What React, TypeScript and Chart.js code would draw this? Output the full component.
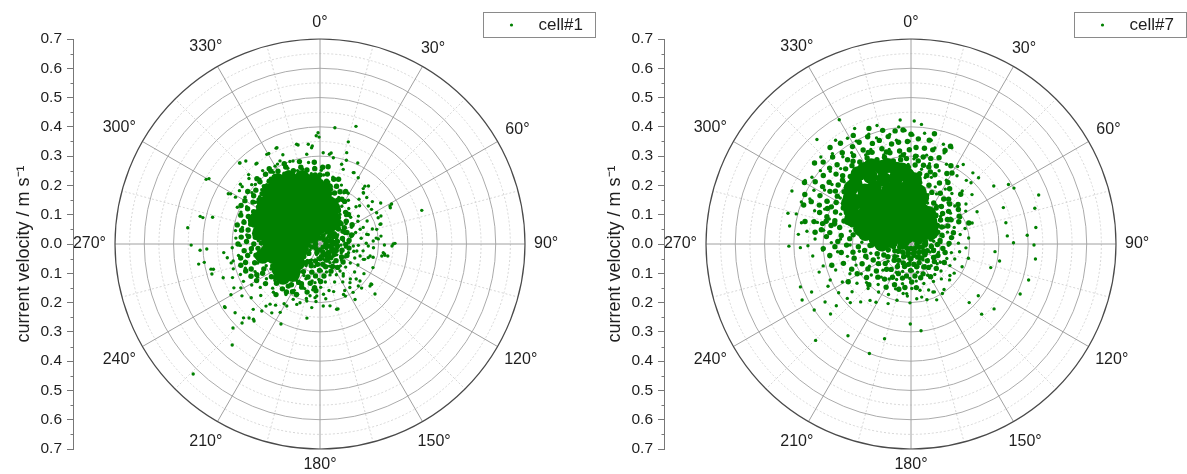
import React, { useEffect, useRef } from 'react';
import { Chart, registerables } from 'chart.js';

Chart.register(...registerables);

// ---------- axis / grid definitions ----------
const SPEED_MAX = 0.7;
const speedTickStep = 0.1;
const ringValues = [0.1, 0.2, 0.3, 0.4, 0.5, 0.6];
const minorRingValues = [0.05, 0.15, 0.25, 0.35, 0.45, 0.55, 0.65];
const angleTicks = [0, 30, 60, 90, 120, 150, 180, 210, 240, 270, 300, 330];
const angleLabels = ['0°', '30°', '60°', '90°', '120°', '150°', '180°', '210°', '240°', '270°', '300°', '330°'];
const minorAngleTicks = [15, 45, 75, 105, 135, 165, 195, 225, 255, 285, 315, 345];
const axisTitle = 'current velocity / m s\u207B\u00B9    ';
const legendLabels = ['cell#1', 'cell#7'];

// ---------- data: [direction in degrees, speed in m/s] ----------
// solid centre of the cloud (cell#1)
const cell1Dense: [number, number][] = [
  [321, 0.05], [322, 0.09], [320, 0.13], [321, 0.17], [322, 0.21], [320, 0.245],
  [331, 0.07], [330, 0.11], [332, 0.15], [331, 0.19], [330, 0.23],
  [311, 0.07], [312, 0.11], [310, 0.15], [311, 0.19], [312, 0.23],
  [341, 0.05], [340, 0.09], [342, 0.13], [341, 0.17], [340, 0.21],
  [301, 0.05], [302, 0.09], [300, 0.13], [301, 0.17], [302, 0.21],
  [351, 0.08], [350, 0.12], [352, 0.16], [351, 0.2],
  [291, 0.08], [290, 0.12], [292, 0.16], [291, 0.2], [290, 0.235],
  [1, 0.06], [2, 0.1], [0, 0.14], [1, 0.18],
  [281, 0.06], [280, 0.1], [282, 0.14], [281, 0.18], [280, 0.21],
  [11, 0.07], [12, 0.11], [10, 0.145],
  [271, 0.07], [270, 0.11], [272, 0.145], [271, 0.17],
  [21, 0.07], [261, 0.07],
  [245, 0.08], [235, 0.13], [250, 0.15], [228, 0.17], [258, 0.2],
  [345, 0.235], [335, 0.25], [355, 0.215], [5, 0.19], [15, 0.14], [25, 0.1], [20, 0.13], [30, 0.08],
  [316, 0.25], [326, 0.26], [306, 0.235], [296, 0.225], [286, 0.2], [276, 0.175], [266, 0.14],
  [256, 0.12], [240, 0.11], [230, 0.1], [245, 0.14], [238, 0.165], [255, 0.165], [262, 0.18],
  [232, 0.145], [222, 0.14],
];

// dense ring of samples around the centre (cell#1)
const cell1Mid: [number, number][] = [
  [281, 0.25], [280, 0.272], [291, 0.262], [290, 0.288], [301, 0.245], [302, 0.27], [300, 0.296],
  [311, 0.262], [310, 0.286], [321, 0.276], [322, 0.302], [331, 0.262], [330, 0.287],
  [341, 0.242], [340, 0.266], [351, 0.232], [350, 0.257], [1, 0.212], [0, 0.236], [2, 0.262],
  [11, 0.176], [10, 0.2], [12, 0.226], [21, 0.1], [20, 0.131], [22, 0.161], [21, 0.191],
  [271, 0.2], [270, 0.226], [272, 0.251], [261, 0.1], [262, 0.13], [260, 0.222], [261, 0.25],
  [286, 0.246], [296, 0.252], [306, 0.257], [316, 0.272], [326, 0.277], [336, 0.266],
  [346, 0.246], [356, 0.236], [6, 0.216], [16, 0.181], [266, 0.212], [276, 0.222],
  [30, 0.05], [31, 0.09], [29, 0.13], [30, 0.168], [40, 0.061], [41, 0.1], [39, 0.139],
  [50, 0.042], [51, 0.081], [49, 0.119], [60, 0.052], [61, 0.09], [59, 0.128],
  [75, 0.041], [76, 0.079], [74, 0.112], [90, 0.05], [91, 0.088], [105, 0.04], [106, 0.078],
  [120, 0.05], [121, 0.086], [135, 0.041], [136, 0.079], [150, 0.05], [151, 0.088],
  [165, 0.04], [166, 0.08], [180, 0.05], [181, 0.09], [179, 0.128],
  [195, 0.06], [196, 0.1], [194, 0.138], [210, 0.07], [211, 0.11], [209, 0.15], [210, 0.188],
  [220, 0.2], [221, 0.229], [225, 0.09], [226, 0.128], [235, 0.172], [236, 0.2], [234, 0.23],
  [245, 0.178], [246, 0.21], [244, 0.24], [255, 0.2], [254, 0.232], [256, 0.262],
  [215, 0.17], [205, 0.15], [200, 0.12], [250, 0.05], [230, 0.05], [265, 0.04],
  [286, 0.27], [296, 0.275], [306, 0.28], [316, 0.295], [326, 0.3], [336, 0.288], [346, 0.27],
  [356, 0.258], [6, 0.24], [16, 0.205], [266, 0.235], [276, 0.245], [26, 0.13], [26, 0.17], [26, 0.2],
  [0, 0.02], [45, 0.02], [90, 0.02], [135, 0.015], [180, 0.02], [225, 0.02], [270, 0.015], [315, 0.02],
  [20, 0.03], [70, 0.03], [110, 0.025], [160, 0.03], [200, 0.03], [250, 0.03], [290, 0.03], [340, 0.025],
  [35, 0.07], [35, 0.11], [45, 0.05], [46, 0.1], [44, 0.14], [55, 0.06], [56, 0.1], [66, 0.06], [67, 0.1],
  [82, 0.06], [83, 0.1], [97, 0.06], [98, 0.1], [112, 0.06], [113, 0.1], [127, 0.06], [128, 0.1],
  [142, 0.06], [143, 0.1], [157, 0.06], [158, 0.1], [172, 0.07], [173, 0.11], [187, 0.07], [188, 0.11],
  [187, 0.15], [202, 0.08], [203, 0.16], [217, 0.08], [218, 0.12], [217, 0.18], [232, 0.07], [233, 0.19],
  [242, 0.06], [252, 0.08], [243, 0.22], [250, 0.25], [228, 0.2], [215, 0.2], [205, 0.19], [195, 0.17],
  [185, 0.16], [265, 0.26], [270, 0.28], [275, 0.27], [260, 0.275], [255, 0.28], [250, 0.27], [245, 0.26],
  [240, 0.25], [283, 0.29], [296, 0.3], [306, 0.305], [316, 0.31], [326, 0.31], [336, 0.3], [346, 0.29],
  [356, 0.28], [6, 0.265], [16, 0.23],
];

// individual samples (cell#1)
const cell1Points: [number, number][] = [
  [358, 0.22], [3, 0.236], [1, 0.252], [356, 0.262], [5, 0.212],
  [9, 0.172], [12, 0.19], [8, 0.214], [14, 0.178], [11, 0.232],
  [19, 0.112], [23, 0.134], [18, 0.152], [22, 0.171], [25, 0.193], [20, 0.214],
  [28, 0.042], [32, 0.081], [27, 0.103], [34, 0.122], [30, 0.149], [33, 0.178], [29, 0.198],
  [38, 0.052], [43, 0.071], [37, 0.098], [42, 0.131], [39, 0.156], [44, 0.177], [41, 0.203],
  [48, 0.031], [53, 0.062], [47, 0.088], [52, 0.113], [49, 0.139], [54, 0.162], [46, 0.188],
  [58, 0.041], [63, 0.068], [57, 0.101], [62, 0.122], [59, 0.151], [64, 0.179],
  [68, 0.029], [73, 0.059], [67, 0.092], [72, 0.128], [69, 0.158], [74, 0.186],
  [78, 0.048], [83, 0.081], [77, 0.109], [82, 0.142], [79, 0.168], [84, 0.193],
  [88, 0.038], [93, 0.072], [87, 0.098], [92, 0.131], [89, 0.158], [94, 0.183],
  [98, 0.032], [103, 0.061], [97, 0.088], [102, 0.118], [99, 0.149], [104, 0.187],
  [108, 0.051], [113, 0.079], [107, 0.102], [112, 0.128], [109, 0.161], [114, 0.198],
  [118, 0.042], [123, 0.068], [117, 0.097], [122, 0.122], [119, 0.148], [124, 0.181],
  [128, 0.028], [133, 0.061], [127, 0.091], [132, 0.118], [129, 0.152], [134, 0.172],
  [138, 0.049], [143, 0.078], [137, 0.102], [142, 0.129], [139, 0.158],
  [148, 0.038], [153, 0.062], [147, 0.091], [152, 0.119], [149, 0.151], [154, 0.198],
  [158, 0.032], [163, 0.058], [157, 0.082], [162, 0.111], [159, 0.139], [164, 0.169],
  [168, 0.052], [173, 0.071], [167, 0.098], [172, 0.131], [169, 0.162], [174, 0.188],
  [178, 0.041], [183, 0.069], [177, 0.092], [182, 0.121], [179, 0.148], [184, 0.197],
  [188, 0.048], [193, 0.079], [187, 0.112], [192, 0.129], [189, 0.158], [194, 0.192],
  [198, 0.038], [203, 0.072], [197, 0.101], [202, 0.128], [199, 0.161], [204, 0.188], [201, 0.221],
  [208, 0.062], [213, 0.088], [207, 0.121], [212, 0.148], [209, 0.181], [214, 0.208], [211, 0.238],
  [218, 0.071], [223, 0.099], [217, 0.132], [222, 0.161], [219, 0.198], [224, 0.229], [216, 0.258], [221, 0.281],
  [228, 0.052], [233, 0.091], [231, 0.198], [227, 0.221], [234, 0.252], [229, 0.268], [232, 0.298],
  [238, 0.041], [243, 0.188], [237, 0.218], [242, 0.241], [239, 0.272], [244, 0.291], [241, 0.309],
  [248, 0.198], [253, 0.222], [247, 0.241], [252, 0.268], [249, 0.291], [254, 0.308],
  [258, 0.221], [263, 0.238], [257, 0.262], [262, 0.281], [259, 0.302],
  [268, 0.188], [273, 0.211], [267, 0.232], [272, 0.251], [269, 0.272], [274, 0.288],
  [278, 0.212], [283, 0.228], [277, 0.252], [282, 0.271], [279, 0.292],
  [288, 0.232], [293, 0.251], [287, 0.272], [292, 0.291], [294, 0.309],
  [298, 0.241], [303, 0.262], [297, 0.281], [302, 0.302],
  [308, 0.262], [313, 0.272], [307, 0.291], [311, 0.309],
  [318, 0.272], [323, 0.281], [317, 0.302], [322, 0.318],
  [328, 0.262], [333, 0.271], [327, 0.292], [332, 0.309],
  [338, 0.251], [343, 0.262], [337, 0.281], [342, 0.298],
  [348, 0.232], [353, 0.242], [347, 0.262], [352, 0.281],
  // outer samples
  [299.6, 0.447], [346.8, 0.35], [335.4, 0.36], [353.3, 0.343], [355, 0.33], [329.3, 0.356],
  [337.4, 0.33], [315.2, 0.39], [318.2, 0.38], [322, 0.35], [314.2, 0.34], [312.7, 0.33],
  [298.7, 0.357], [299, 0.33], [303.5, 0.33], [306.4, 0.33], [284, 0.378], [282.7, 0.41],
  [312.6, 0.3], [315.6, 0.277], [330, 0.307], [334.3, 0.315], [340, 0.3], [351.6, 0.31], [358, 0.37],
  [7.3, 0.4], [17, 0.42], [359, 0.38], [359.5, 0.365], [15.5, 0.362], [16.3, 0.325], [355.5, 0.336],
  [2, 0.312], [6, 0.308], [8.8, 0.298], [15.2, 0.282], [17.3, 0.267], [25, 0.269], [30, 0.261],
  [37.8, 0.25], [40.2, 0.229], [45.2, 0.225], [51.8, 0.21], [56.1, 0.212], [61.1, 0.221], [65.7, 0.218],
  [61.5, 0.272], [25.5, 0.27], [38, 0.24], [51, 0.23], [56, 0.25], [62.8, 0.27], [71.7, 0.366],
  [90, 0.25], [97.8, 0.218], [101, 0.215], [99.9, 0.225], [85, 0.2], [82.6, 0.21], [103.5, 0.176],
  [105.8, 0.171], [128, 0.224], [130, 0.223], [132.8, 0.186], [147.7, 0.224], [155, 0.19],
  [145.5, 0.18], [152, 0.18], [165.7, 0.23], [170.8, 0.214], [176, 0.172], [185.3, 0.184], [187.4, 0.219],
  [93.4, 0.114], [100.8, 0.128], [106.7, 0.143], [109.5, 0.157], [92.4, 0.165], [86.8, 0.182],
  [75.5, 0.2], [71.8, 0.216], [69.8, 0.146], [78.3, 0.163], [73.8, 0.118],
  [171.4, 0.076], [151.9, 0.072], [143.5, 0.115], [144, 0.135], [142.2, 0.167], [145.6, 0.2], [137.6, 0.194],
  [187.4, 0.133], [183.6, 0.178], [177, 0.212],
  [267.5, 0.387], [261, 0.4], [256.7, 0.374], [264.9, 0.33], [261.6, 0.32], [267.6, 0.3], [258, 0.31],
  [250.8, 0.35], [249, 0.32], [243, 0.33], [240.3, 0.35], [236.4, 0.32], [236.2, 0.39], [231, 0.373],
  [226, 0.363], [225.6, 0.319], [221.5, 0.343], [221, 0.303], [219.7, 0.267], [215, 0.287],
  [210.2, 0.27], [208.2, 0.24], [205.8, 0.21], [198.8, 0.212], [193, 0.2], [190.9, 0.18],
  [283, 0.42], [277, 0.455], [269.5, 0.44], [267, 0.41], [260.6, 0.42], [254.5, 0.383], [257, 0.382],
  [236.7, 0.39], [226, 0.413], [221, 0.457], [224.3, 0.62], [224.6, 0.379], [223.8, 0.35], [220.6, 0.346],
  [206, 0.304], [190, 0.257], [164.5, 0.23], [136.7, 0.207], [128, 0.221], [132.3, 0.254],
  [90.9, 0.22], [91.6, 0.246], [89.5, 0.256], [98.8, 0.223], [100, 0.235], [65.3, 0.229], [71.8, 0.219],
  [60.8, 0.28], [39.9, 0.258], [40.5, 0.229], [25, 0.305], [17.5, 0.3], [7, 0.313], [347.5, 0.346],
  [335.9, 0.36], [330.5, 0.355], [321.3, 0.35], [315.4, 0.389], [299.3, 0.35], [306.9, 0.34], [300.5, 0.44],
];

// solid centre of the cloud (cell#7)
const cell7Dense: [number, number][] = [
  [328, 0.07], [327, 0.11], [329, 0.15], [328, 0.19], [327, 0.23], [329, 0.27], [328, 0.3],
  [318, 0.08], [319, 0.12], [317, 0.16], [318, 0.2], [319, 0.24], [317, 0.28],
  [338, 0.08], [337, 0.12], [339, 0.16], [338, 0.2], [337, 0.24], [339, 0.28],
  [308, 0.07], [309, 0.11], [307, 0.15], [308, 0.19], [309, 0.23], [307, 0.26],
  [348, 0.07], [347, 0.11], [349, 0.15], [348, 0.19], [347, 0.23], [349, 0.26],
  [298, 0.08], [299, 0.12], [297, 0.16], [298, 0.2], [299, 0.235],
  [358, 0.08], [357, 0.12], [359, 0.16], [358, 0.2], [357, 0.235],
  [288, 0.1], [289, 0.14], [287, 0.18],
  [8, 0.1], [7, 0.14], [9, 0.18],
  [5, 0.04], [15, 0.06], [35, 0.07], [50, 0.05], [25, 0.1], [60, 0.08], [300, 0.03], [340, 0.03],
  [323, 0.3], [333, 0.3], [313, 0.28], [343, 0.28], [303, 0.255], [353, 0.255], [293, 0.22], [3, 0.22],
  [283, 0.16], [13, 0.16], [278, 0.12], [18, 0.12], [30, 0.12], [40, 0.1], [280, 0.07], [270, 0.1],
];

// dense ring of samples around the centre (cell#7)
const cell7Mid: [number, number][] = [
  [328, 0.33], [327, 0.36], [329, 0.388], [318, 0.31], [319, 0.34], [317, 0.37], [318, 0.4],
  [338, 0.31], [337, 0.34], [339, 0.368], [308, 0.29], [309, 0.32], [307, 0.35], [308, 0.38],
  [348, 0.29], [347, 0.32], [349, 0.348], [298, 0.262], [299, 0.292], [297, 0.322], [298, 0.352],
  [358, 0.262], [357, 0.292], [359, 0.322], [288, 0.212], [289, 0.242], [287, 0.272], [288, 0.302], [289, 0.33],
  [8, 0.212], [7, 0.242], [9, 0.272], [8, 0.3], [278, 0.16], [279, 0.2], [277, 0.24], [278, 0.28], [279, 0.31],
  [18, 0.17], [17, 0.21], [19, 0.25], [18, 0.28],
  [323, 0.335], [313, 0.32], [303, 0.3], [293, 0.28], [283, 0.25], [333, 0.33], [343, 0.31],
  [353, 0.29], [3, 0.27], [13, 0.24],
  [30, 0.05], [31, 0.09], [29, 0.16], [30, 0.2], [31, 0.245], [40, 0.04], [41, 0.13], [39, 0.165], [40, 0.2],
  [50, 0.09], [51, 0.13], [49, 0.17], [50, 0.21], [60, 0.04], [61, 0.12], [59, 0.16], [60, 0.19],
  [75, 0.03], [76, 0.07], [74, 0.11], [75, 0.15], [90, 0.05], [91, 0.09], [89, 0.13],
  [105, 0.04], [106, 0.08], [104, 0.12], [120, 0.05], [121, 0.09], [119, 0.13],
  [135, 0.04], [136, 0.08], [134, 0.12], [150, 0.05], [151, 0.09], [149, 0.13],
  [165, 0.04], [166, 0.08], [164, 0.12], [180, 0.05], [181, 0.09], [179, 0.13],
  [195, 0.04], [196, 0.08], [194, 0.12], [195, 0.16], [210, 0.05], [211, 0.09], [209, 0.13], [210, 0.17],
  [225, 0.04], [226, 0.08], [224, 0.12], [225, 0.16], [226, 0.2],
  [240, 0.05], [241, 0.09], [239, 0.13], [240, 0.17], [241, 0.21], [239, 0.25],
  [255, 0.04], [256, 0.08], [254, 0.12], [255, 0.16], [256, 0.2], [254, 0.24], [255, 0.28],
  [268, 0.14], [267, 0.18], [269, 0.22], [268, 0.26], [267, 0.3],
  [323, 0.36], [323, 0.39], [313, 0.35], [313, 0.38], [313, 0.41], [303, 0.33], [303, 0.36], [303, 0.39],
  [293, 0.31], [293, 0.34], [293, 0.37], [283, 0.28], [283, 0.31], [283, 0.34], [333, 0.36], [333, 0.39],
  [343, 0.34], [343, 0.37], [353, 0.32], [353, 0.35], [3, 0.3], [3, 0.33], [13, 0.27], [13, 0.3], [13, 0.33],
  [325, 0.345], [315, 0.33], [305, 0.315], [295, 0.3], [335, 0.345], [345, 0.325], [355, 0.305], [5, 0.285],
  [15, 0.255], [285, 0.27], [275, 0.21], [272, 0.25], [275, 0.29], [285, 0.3],
  [22, 0.19], [25, 0.23], [27, 0.27], [35, 0.1], [35, 0.15], [36, 0.19], [35, 0.23], [45, 0.06], [45, 0.11],
  [46, 0.15], [44, 0.19], [45, 0.24], [55, 0.07], [55, 0.11], [56, 0.15], [54, 0.2], [65, 0.06], [66, 0.1],
  [64, 0.14], [65, 0.18], [70, 0.21], [82, 0.05], [83, 0.1], [81, 0.14], [97, 0.07], [98, 0.11],
  [112, 0.06], [113, 0.1], [128, 0.06], [127, 0.1], [142, 0.06], [143, 0.1], [157, 0.07], [158, 0.11],
  [172, 0.07], [173, 0.11], [173, 0.15], [187, 0.07], [188, 0.11], [188, 0.15], [202, 0.07], [203, 0.11],
  [202, 0.15], [217, 0.07], [218, 0.11], [217, 0.15], [232, 0.07], [233, 0.11], [232, 0.15], [233, 0.19],
  [247, 0.06], [248, 0.1], [247, 0.14], [248, 0.18], [247, 0.22], [262, 0.06], [263, 0.1], [262, 0.16],
  [262, 0.2], [263, 0.24], [262, 0.28],
  [0, 0.02], [45, 0.02], [90, 0.02], [135, 0.02], [180, 0.015], [225, 0.02], [270, 0.02], [315, 0.015],
  [20, 0.035], [110, 0.03], [160, 0.03], [200, 0.03], [250, 0.03], [290, 0.04],
  [358, 0.35], [0, 0.375], [356, 0.39], [4, 0.36], [8, 0.33], [10, 0.36], [12, 0.385], [18, 0.31],
  [20, 0.34], [22, 0.36], [348, 0.375], [346, 0.4], [352, 0.39], [338, 0.395], [340, 0.42], [332, 0.42],
  [325, 0.42], [320, 0.43], [310, 0.43], [300, 0.42], [295, 0.4], [290, 0.39], [282, 0.37], [277, 0.33],
  [27, 0.3], [30, 0.28],
];

// individual samples (cell#7)
const cell7Points: [number, number][] = [
  [358, 0.272], [2, 0.291], [356, 0.309], [3, 0.332], [359, 0.351], [1, 0.372], [357, 0.388], [4, 0.302],
  [9, 0.211], [12, 0.232], [8, 0.258], [13, 0.281], [10, 0.308], [14, 0.338], [11, 0.361], [7, 0.381],
  [18, 0.122], [22, 0.151], [19, 0.178], [23, 0.212], [17, 0.238], [21, 0.268], [24, 0.298], [20, 0.331], [18, 0.358],
  [28, 0.131], [33, 0.158], [27, 0.192], [32, 0.221], [29, 0.249], [34, 0.281], [31, 0.309],
  [38, 0.102], [43, 0.128], [37, 0.162], [42, 0.189], [39, 0.222], [44, 0.252], [41, 0.288],
  [48, 0.081], [53, 0.112], [47, 0.138], [52, 0.171], [49, 0.198], [54, 0.232], [51, 0.268],
  [58, 0.102], [63, 0.128], [57, 0.161], [62, 0.192], [59, 0.218], [64, 0.251],
  [68, 0.041], [73, 0.072], [67, 0.098], [72, 0.131], [69, 0.158], [74, 0.192], [71, 0.221],
  [78, 0.052], [83, 0.078], [77, 0.112], [82, 0.139], [79, 0.171], [84, 0.198],
  [88, 0.042], [93, 0.069], [87, 0.102], [92, 0.128], [89, 0.162], [94, 0.188],
  [98, 0.051], [103, 0.082], [97, 0.108], [102, 0.141], [99, 0.168], [104, 0.202],
  [108, 0.038], [113, 0.071], [107, 0.098], [112, 0.132], [109, 0.158], [114, 0.191],
  [118, 0.031], [123, 0.062], [117, 0.092], [122, 0.118], [119, 0.152], [124, 0.178],
  [128, 0.052], [133, 0.079], [127, 0.112], [132, 0.138], [129, 0.171],
  [138, 0.041], [143, 0.068], [137, 0.101], [142, 0.132], [139, 0.158], [144, 0.192],
  [148, 0.032], [153, 0.061], [147, 0.088], [152, 0.121], [149, 0.149], [154, 0.182],
  [158, 0.052], [163, 0.081], [157, 0.108], [162, 0.142], [159, 0.168], [164, 0.198],
  [168, 0.041], [173, 0.072], [167, 0.099], [172, 0.128], [169, 0.161], [174, 0.188],
  [178, 0.032], [183, 0.061], [177, 0.092], [182, 0.118], [179, 0.152], [184, 0.178], [181, 0.201],
  [188, 0.052], [193, 0.078], [187, 0.112], [192, 0.139], [189, 0.171], [194, 0.198],
  [198, 0.041], [203, 0.072], [197, 0.098], [202, 0.131], [199, 0.162], [204, 0.189], [201, 0.218],
  [208, 0.052], [213, 0.082], [207, 0.109], [212, 0.141], [209, 0.172], [214, 0.198], [211, 0.232],
  [218, 0.041], [223, 0.078], [217, 0.112], [222, 0.152], [219, 0.178], [224, 0.211], [216, 0.238], [221, 0.262],
  [228, 0.062], [233, 0.098], [227, 0.131], [232, 0.172], [229, 0.201], [234, 0.228], [231, 0.259], [226, 0.288],
  [238, 0.052], [243, 0.091], [237, 0.128], [242, 0.161], [239, 0.198], [244, 0.232], [241, 0.268], [236, 0.298], [243, 0.318],
  [248, 0.041], [253, 0.082], [247, 0.121], [252, 0.158], [249, 0.201], [254, 0.238], [251, 0.272], [246, 0.302], [253, 0.328],
  [258, 0.062], [263, 0.101], [257, 0.141], [262, 0.178], [259, 0.221], [264, 0.252], [261, 0.281], [256, 0.309], [263, 0.338],
  [268, 0.052], [273, 0.088], [267, 0.132], [272, 0.168], [269, 0.208], [274, 0.241], [271, 0.272], [266, 0.302], [273, 0.328], [269, 0.352],
  [278, 0.041], [283, 0.082], [282, 0.212], [277, 0.241], [284, 0.268], [279, 0.302], [283, 0.328], [277, 0.358], [281, 0.381],
  [288, 0.232], [293, 0.261], [287, 0.292], [292, 0.318], [289, 0.348], [294, 0.378], [291, 0.401],
  [298, 0.262], [303, 0.288], [297, 0.318], [302, 0.348], [299, 0.379], [304, 0.408], [301, 0.422],
  [308, 0.281], [313, 0.312], [307, 0.338], [312, 0.371], [309, 0.398], [314, 0.428],
  [318, 0.302], [323, 0.321], [317, 0.352], [322, 0.378], [319, 0.409], [324, 0.438],
  [328, 0.322], [333, 0.341], [327, 0.372], [332, 0.398], [329, 0.421], [334, 0.439],
  [338, 0.302], [343, 0.318], [337, 0.351], [342, 0.381], [339, 0.402], [344, 0.421],
  [348, 0.281], [353, 0.302], [347, 0.331], [352, 0.358], [349, 0.381], [354, 0.402],
  // outer samples
  [330, 0.49], [318, 0.48], [294, 0.445], [284, 0.433], [269, 0.417], [242.8, 0.418], [235.7, 0.4],
  [224.7, 0.463], [214.5, 0.38], [200.8, 0.4], [195.6, 0.336], [173.4, 0.298], [180.5, 0.273],
  [114.6, 0.41], [128, 0.36], [134.8, 0.34], [135.2, 0.282], [127.6, 0.29], [107, 0.42], [96.9, 0.428],
  [90.5, 0.42], [82.5, 0.43], [85.7, 0.398], [89.3, 0.35], [73.9, 0.44], [69, 0.467], [61.5, 0.4],
  [58.6, 0.39], [55, 0.345], [68.5, 0.339], [77.4, 0.332], [85.2, 0.33], [95.2, 0.288], [100.9, 0.308],
  [106.5, 0.284], [33.3, 0.325], [41, 0.322], [44.4, 0.293], [45.6, 0.323], [23, 0.357],
  [284.7, 0.405], [278.4, 0.419], [274.9, 0.386], [268.1, 0.378], [248.8, 0.405], [244.2, 0.377],
  [236, 0.354], [229, 0.364], [230.4, 0.331], [229.5, 0.286], [185, 0.17], [168.6, 0.185],
  [155.4, 0.18], [155.3, 0.21], [147.6, 0.2], [132.9, 0.18], [355, 0.425], [1.5, 0.42], [5, 0.41],
];

// ---------- rendering ----------
const FONT = '"Liberation Sans", Arial, Helvetica, sans-serif';
const GREEN = '#008000';
const TEXT = '#1e1e1e';
const DEG = Math.PI / 180;

function toXY(list: [number, number][]) {
  return list.map(([dir, speed]) => ({ x: speed * Math.sin(dir * DEG), y: speed * Math.cos(dir * DEG) }));
}

const polarGridPlugin = {
  id: 'polarGrid',
  beforeDatasetsDraw(chart: any) {
    const { ctx } = chart;
    const xs = chart.scales.x;
    const ys = chart.scales.y;
    const cx = xs.getPixelForValue(0);
    const cy = ys.getPixelForValue(0);
    const rad = (v: number) => Math.abs(ys.getPixelForValue(v) - cy);
    const R = rad(SPEED_MAX);
    ctx.save();
    ctx.lineWidth = 1;
    ctx.strokeStyle = '#d6d6d6';
    ctx.setLineDash([2, 2]);
    minorRingValues.forEach((v) => {
      ctx.beginPath();
      ctx.arc(cx, cy, rad(v), 0, Math.PI * 2);
      ctx.stroke();
    });
    minorAngleTicks.forEach((a) => {
      ctx.beginPath();
      ctx.moveTo(cx, cy);
      ctx.lineTo(cx + R * Math.sin(a * DEG), cy - R * Math.cos(a * DEG));
      ctx.stroke();
    });
    ctx.setLineDash([]);
    ctx.strokeStyle = '#ababab';
    ringValues.forEach((v) => {
      ctx.beginPath();
      ctx.arc(cx, cy, rad(v), 0, Math.PI * 2);
      ctx.stroke();
    });
    ctx.strokeStyle = '#a0a0a0';
    angleTicks.forEach((a) => {
      ctx.beginPath();
      ctx.moveTo(cx, cy);
      ctx.lineTo(cx + R * Math.sin(a * DEG), cy - R * Math.cos(a * DEG));
      ctx.stroke();
    });
    ctx.strokeStyle = '#4a4a4a';
    ctx.lineWidth = 1.2;
    ctx.beginPath();
    ctx.arc(cx, cy, R, 0, Math.PI * 2);
    ctx.stroke();
    ctx.fillStyle = TEXT;
    ctx.font = `16px ${FONT}`;
    ctx.textAlign = 'center';
    ctx.textBaseline = 'middle';
    angleTicks.forEach((a, i) => {
      const label = angleLabels[i];
      const w = ctx.measureText(label).width;
      const s = Math.sin(a * DEG);
      const c = Math.cos(a * DEG);
      const ext = Math.abs(s) * w / 2 + Math.abs(c) * 7;
      const d = R + 9 + ext;
      ctx.fillText(label, cx + d * s, cy - d * c);
    });
    ctx.restore();
  },
  afterDraw(chart: any, _args: any, opts: any) {
    const { ctx, chartArea } = chart;
    const ys = chart.scales.y;
    ctx.save();
    ctx.strokeStyle = '#777';
    ctx.lineWidth = 1;
    const ax = Math.round(chartArea.left) + 0.5;
    for (let v = -SPEED_MAX + speedTickStep / 2; v < SPEED_MAX; v += speedTickStep) {
      const py = Math.round(ys.getPixelForValue(v)) + 0.5;
      ctx.beginPath();
      ctx.moveTo(ax - 3, py);
      ctx.lineTo(ax, py);
      ctx.stroke();
    }
    const bx = 483.5;
    const by = 12.5;
    ctx.strokeStyle = '#8a8a8a';
    ctx.strokeRect(bx, by, 112, 25);
    ctx.fillStyle = GREEN;
    ctx.beginPath();
    ctx.arc(bx + 28, by + 12.5, 1.6, 0, Math.PI * 2);
    ctx.fill();
    ctx.fillStyle = TEXT;
    ctx.font = `17px ${FONT}`;
    ctx.textAlign = 'left';
    ctx.textBaseline = 'middle';
    ctx.fillText(opts.label, bx + 55, by + 13);
    ctx.restore();
  },
};

const PANEL_W = 596;
const PANEL_H = 474;
const PX_PER_UNIT = 410 / (2 * SPEED_MAX);
const AXIS_X = 73;
const CENTER_X = 320;
const PAD_RIGHT = 16;
const X_MIN = -(CENTER_X - AXIS_X) / PX_PER_UNIT;
const X_MAX = X_MIN + (PANEL_W - PAD_RIGHT - AXIS_X) / PX_PER_UNIT;

type Pair = [number, number];

function PolarPanel({ label, dense, mid, points, left }: { label: string; dense: Pair[]; mid: Pair[]; points: Pair[]; left: number }) {
  const ref = useRef<HTMLCanvasElement>(null);
  useEffect(() => {
    if (!ref.current) return;
    const chart = new Chart(ref.current, {
      type: 'scatter',
      data: {
        datasets: [
          { label, data: toXY(dense), backgroundColor: GREEN, borderWidth: 0, pointRadius: 7.5, pointHoverRadius: 7.5 },
          { label, data: toXY(mid), backgroundColor: GREEN, borderWidth: 0, pointRadius: 2.7, pointHoverRadius: 2.7 },
          { label, data: toXY(points), backgroundColor: GREEN, borderWidth: 0, pointRadius: 1.7, pointHoverRadius: 1.7 },
        ],
      },
      options: {
        responsive: false,
        animation: false,
        devicePixelRatio: 1,
        layout: { padding: { left: 0, right: PAD_RIGHT, top: 39, bottom: 25 } },
        plugins: {
          legend: { display: false },
          tooltip: { enabled: false },
          polarGrid: { label },
        } as any,
        scales: {
          x: { type: 'linear', display: false, min: X_MIN, max: X_MAX },
          y: {
            type: 'linear',
            min: -SPEED_MAX,
            max: SPEED_MAX,
            afterFit: (s: any) => { s.width = AXIS_X; },
            ticks: {
              stepSize: speedTickStep,
              callback: (v: any) => Math.abs(Number(v)).toFixed(1),
              font: { family: FONT, size: 15.5 },
              color: TEXT,
              padding: 5,
            },
            grid: { drawOnChartArea: false, drawTicks: true, tickLength: 6, color: '#777' },
            border: { display: true, color: '#777', width: 1 },
            title: {
              display: true,
              text: axisTitle,
              font: { family: FONT, size: 18 },
              color: TEXT,
              padding: { top: 13, bottom: 0 },
            },
          },
        },
      },
      plugins: [polarGridPlugin],
    } as any);
    return () => chart.destroy();
  }, [label, dense, mid, points]);
  return (
    <canvas
      ref={ref}
      width={PANEL_W}
      height={PANEL_H}
      style={{ position: 'absolute', left, top: 0, width: PANEL_W, height: PANEL_H }}
    />
  );
}

export default function App() {
  return (
    <div style={{ position: 'absolute', left: 0, top: 0, width: 1187, height: 474, background: '#fff', overflow: 'hidden' }}>
      <PolarPanel label={legendLabels[0]} dense={cell1Dense} mid={cell1Mid} points={cell1Points} left={0} />
      <PolarPanel label={legendLabels[1]} dense={cell7Dense} mid={cell7Mid} points={cell7Points} left={591} />
    </div>
  );
}
